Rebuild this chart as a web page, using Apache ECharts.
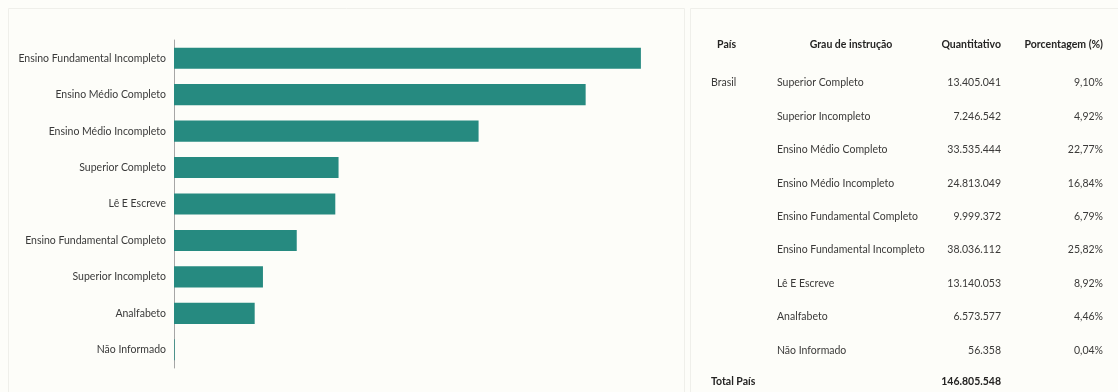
<!DOCTYPE html>
<html>
<head>
<meta charset="utf-8">
<script src="https://cdn.jsdelivr.net/npm/echarts@6/dist/echarts.min.js"></script>
<style>
  html, body { margin: 0; padding: 0; background: #fdfdf9; }
  #container { width: 1118px; height: 392px; }
</style>
</head>
<body>
<div id="container"></div>
<script>
// bar chart (top to bottom)
const barCategories = [
    'Ensino Fundamental Incompleto',
    'Ensino Médio Completo',
    'Ensino Médio Incompleto',
    'Superior Completo',
    'Lê E Escreve',
    'Ensino Fundamental Completo',
    'Superior Incompleto',
    'Analfabeto',
    'Não Informado'
];
const barValues = [38036112, 33535444, 24813049, 13405041, 13140053, 9999372, 7246542, 6573577, 56358];

// table
const tableHeaders = ['País', 'Grau de instrução', 'Quantitativo', 'Porcentagem (%)'];
const tableCountry = 'Brasil';
const tableGrau = [
    'Superior Completo',
    'Superior Incompleto',
    'Ensino Médio Completo',
    'Ensino Médio Incompleto',
    'Ensino Fundamental Completo',
    'Ensino Fundamental Incompleto',
    'Lê E Escreve',
    'Analfabeto',
    'Não Informado'
];
const tableQtd = ['13.405.041', '7.246.542', '33.535.444', '24.813.049', '9.999.372', '38.036.112', '13.140.053', '6.573.577', '56.358'];
const tablePct = ['9,10%', '4,92%', '22,77%', '16,84%', '6,79%', '25,82%', '8,92%', '4,46%', '0,04%'];
const totalLabel = 'Total País';
const totalValue = '146.805.548';

const tableFont = "Lato, 'Noto Sans', sans-serif";

// table layout
const rowY0 = 83, rowStep = 33.4, headerY = 45;
const colPais = 711, colGrau = 777, colQtd = 1001, colPct = 1103;

function txt(x, y, text, align, bold, color) {
    return {
        type: 'text',
        x: x, y: y,
        style: {
            text: text,
            align: align,
            verticalAlign: 'middle',
            fill: color || '#3b3a39',
            font: (bold ? 'bold ' : '') + '10.5px ' + tableFont
        },
        z: 10
    };
}

let graphics = [
    // panels
    { type: 'rect', shape: { x: 8.5, y: 8.5, width: 676, height: 400 },
      style: { fill: '#fdfdf9', stroke: '#efefea', lineWidth: 1 }, z: 0 },
    { type: 'rect', shape: { x: 690.5, y: 8.5, width: 440, height: 400 },
      style: { fill: '#fdfdf9', stroke: '#efefea', lineWidth: 1 }, z: 0 },
    // headers
    txt(736, headerY, tableHeaders[0], 'right', true, '#252423'),
    txt(851, headerY, tableHeaders[1], 'center', true, '#252423'),
    txt(colQtd, headerY, tableHeaders[2], 'right', true, '#252423'),
    txt(colPct, headerY, tableHeaders[3], 'right', true, '#252423'),
    txt(colPais, rowY0, tableCountry, 'left', false)
];
tableGrau.forEach(function (g, i) {
    let y = rowY0 + i * rowStep;
    graphics.push(txt(colGrau, y, g, 'left', false));
    graphics.push(txt(colQtd, y, tableQtd[i], 'right', false));
    graphics.push(txt(colPct, y, tablePct[i], 'right', false));
});
graphics.push(txt(colPais, 382, totalLabel, 'left', true, '#252423'));
graphics.push(txt(colQtd, 382, totalValue, 'right', true, '#252423'));

let option = {
    backgroundColor: '#fdfdf9',
    animation: false,
    grid: {
        left: 174,
        top: 40,
        width: 491,
        height: 328,
        outerBoundsMode: 'none',
        containLabel: false
    },
    xAxis: {
        type: 'value',
        min: 0,
        max: 40000000,
        show: false
    },
    yAxis: {
        type: 'category',
        inverse: true,
        data: barCategories,
        axisLine: { show: true, lineStyle: { color: '#a6a6a6', width: 1 } },
        axisTick: { show: false },
        splitLine: { show: false },
        axisLabel: {
            color: '#3a3a3a',
            fontFamily: "Lato, Roboto, sans-serif",
            fontSize: 10.5,
            margin: 8
        }
    },
    series: [
        {
            type: 'bar',
            data: barValues,
            barWidth: '58%',
            itemStyle: { color: '#268a80' },
            z: 2
        }
    ],
    graphic: graphics
};

let chrt = echarts.init(document.getElementById('container'));
chrt.setOption(option);
</script>
</body>
</html>
